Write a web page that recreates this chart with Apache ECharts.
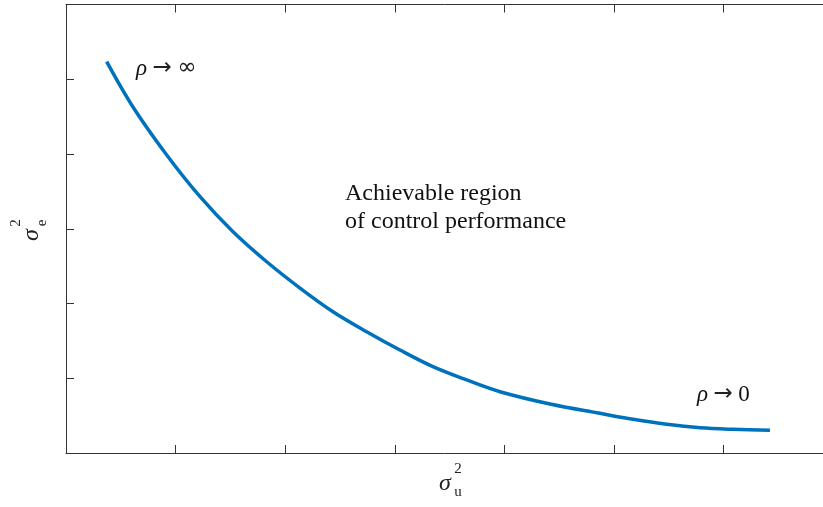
<!DOCTYPE html>
<html>
<head>
<meta charset="utf-8">
<script src="https://cdn.jsdelivr.net/npm/echarts@6/dist/echarts.min.js"></script>
<style>
html,body{margin:0;padding:0;background:#fff;}
#main{width:823px;height:507px;}
</style>
</head>
<body>
<div id="main"></div>
<script>
// sigma_u^2 (x) values, in axis units (tick spacing = 1)
const sigmaU = [0.371, 0.611, 0.919, 1.223, 1.524, 1.831, 2.135, 2.436, 2.743, 3.047, 3.348, 3.656, 3.960, 4.416, 4.872, 5.173, 5.481, 5.785, 6.086, 6.423];
// sigma_e^2 (y) values
const sigmaE = [5.235, 4.629, 3.987, 3.429, 2.960, 2.559, 2.207, 1.890, 1.623, 1.378, 1.155, 0.977, 0.820, 0.656, 0.531, 0.451, 0.384, 0.338, 0.317, 0.304];
const xRange = [0, 6.907];
const yRange = [0, 6];

const chart = echarts.init(document.getElementById('main'), null, {renderer: 'canvas'});
const axisColor = '#333';
const serif = '"Liberation Serif", "DejaVu Serif", serif';
const mathFont = '"DejaVu Sans", sans-serif';

const baseAxis = {
  interval: 1,
  axisLine: {show: true, lineStyle: {color: axisColor, width: 1}},
  axisTick: {show: true, inside: true, length: 8, lineStyle: {color: axisColor, width: 1}},
  axisLabel: {show: false},
  splitLine: {show: false}
};

chart.setOption({
  animation: false,
  backgroundColor: '#fff',
  grid: {left: 66, top: 4.5, right: 0, bottom: 54, containLabel: false},
  xAxis: [
    Object.assign({type: 'value', position: 'bottom', min: xRange[0], max: xRange[1]}, baseAxis),
    Object.assign({type: 'value', position: 'top', min: xRange[0], max: xRange[1]}, baseAxis)
  ],
  yAxis: [
    Object.assign({type: 'value', position: 'left', min: yRange[0], max: yRange[1]}, baseAxis)
  ],
  series: [{
    type: 'line',
    xAxisIndex: 0,
    yAxisIndex: 0,
    data: sigmaU.map((x, i) => [x, sigmaE[i]]),
    smooth: 0.35,
    showSymbol: false,
    lineStyle: {color: '#0072BD', width: 3.5, join: 'round', cap: 'butt'},
    itemStyle: {color: '#0072BD'}
  }],
  graphic: [
    {type: 'text', left: 136, top: 57, style: {
      text: '{i|ρ} {m|→} {m|∞}', fill: '#111', font: '22px ' + serif,
      rich: {
        i: {fontStyle: 'italic', fontSize: 23, fontFamily: serif, fill: '#111'},
        m: {fontSize: 23, fontFamily: mathFont, fill: '#222'}
      }
    }},
    {type: 'text', left: 697, top: 383, style: {
      text: '{i|ρ} {m|→} {n|0}', fill: '#111', font: '22px ' + serif,
      rich: {
        i: {fontStyle: 'italic', fontSize: 23, fontFamily: serif, fill: '#111'},
        m: {fontSize: 23, fontFamily: mathFont, fill: '#222'},
        n: {fontSize: 23, fontFamily: serif, fill: '#111'}
      }
    }},
    {type: 'text', left: 345, top: 180, style: {
      text: 'Achievable region\nof control performance', fill: '#111',
      font: '24px ' + serif, lineHeight: 28
    }},
    // x-axis name sigma_u^2
    {type: 'text', x: 445, y: 484, style: {text: 'σ', font: 'italic 24px ' + serif, fill: '#222', align: 'center', verticalAlign: 'middle'}},
    {type: 'text', x: 458, y: 469, style: {text: '2', font: '15px ' + serif, fill: '#222', align: 'center', verticalAlign: 'middle'}},
    {type: 'text', x: 458, y: 492, style: {text: 'u', font: '15px ' + serif, fill: '#222', align: 'center', verticalAlign: 'middle'}},
    // y-axis name sigma_e^2 (rotated)
    {type: 'text', x: 32, y: 235, rotation: Math.PI / 2, style: {text: 'σ', font: 'italic 24px ' + serif, fill: '#222', align: 'center', verticalAlign: 'middle'}},
    {type: 'text', x: 16, y: 223, rotation: Math.PI / 2, style: {text: '2', font: '15px ' + serif, fill: '#222', align: 'center', verticalAlign: 'middle'}},
    {type: 'text', x: 42, y: 223, rotation: Math.PI / 2, style: {text: 'e', font: '15px ' + serif, fill: '#222', align: 'center', verticalAlign: 'middle'}}
  ]
});
</script>
</body>
</html>
